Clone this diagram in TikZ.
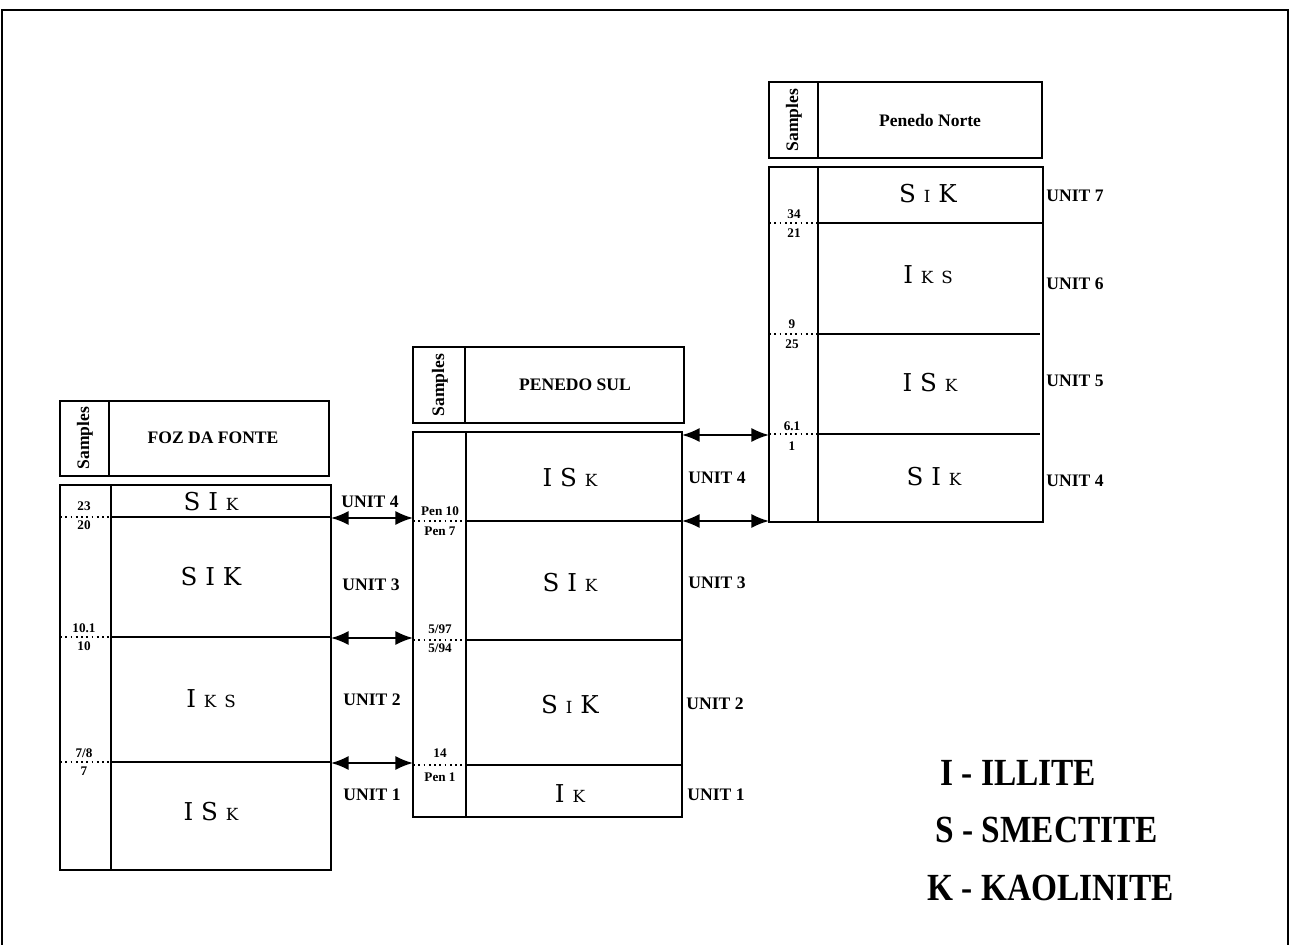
\documentclass[tikz,border=0pt]{standalone}
\usepackage{fontspec}
\setmainfont{Liberation Serif}
\newfontfamily\minfont{DejaVu Serif}
\usetikzlibrary{arrows.meta}
\tikzset{
  frame/.style={line width=1pt},
  sepline/.style={line width=0.9pt},
  dots/.style={line width=1pt, dotted},
  unit/.style={font=\bfseries\fontsize{10}{12}\selectfont, inner sep=0pt},
  smp/.style={font=\bfseries\fontsize{7.5}{8}\selectfont, inner sep=0pt},
  mineral/.style={font=\minfont\fontsize{14}{16}\selectfont, inner sep=0pt},
  title/.style={font=\bfseries\fontsize{10}{12}\selectfont, inner sep=0pt},
  samp/.style={font=\bfseries\fontsize{10}{12}\selectfont, rotate=90, inner sep=0pt},
  link/.style={line width=1.1pt, {Latex[length=10pt,width=8pt]}-{Latex[length=10pt,width=8pt]}},
  legend/.style={font=\bfseries\fontsize{19}{22}\selectfont, inner sep=0pt, anchor=west},
  border/.style={line width=1.2pt}
}
\newcommand\msm[1]{{\fontsize{9.5}{11}\selectfont #1}}
\newcommand\mins[3]{#1\hspace{4.5pt}#2\hspace{4.5pt}#3}
\begin{document}
\begin{tikzpicture}[x=0.02cm,y=-0.02cm]
\useasboundingbox (0,0) rectangle (1290,945);
% outer border
\draw[border] (2,945) -- (2,10) -- (1288,10) -- (1288,945);

% ---------- FOZ DA FONTE ----------
\draw[frame] (60,401) rectangle (329,476);
\draw[frame] (109,401) -- (109,476);
\node[samp] (lsamp) at (85,438) {Samples};
\node[title] (ltitle) at (213,438) {FOZ DA FONTE};
\draw[frame] (60,485) rectangle (331,870);
\draw[frame] (111,485) -- (111,870);
\draw[dots] (60,517) -- (111,517); \draw[sepline] (111,517) -- (331,517);
\draw[dots] (60,637) -- (111,637); \draw[sepline] (111,637) -- (331,637);
\draw[dots] (60,762) -- (111,762); \draw[sepline] (111,762) -- (331,762);
\node[smp] (l23) at (84,506) {23};
\node[smp] (l20) at (84,525) {20};
\node[smp] (l101) at (84,628) {10.1};
\node[smp] (l10) at (84,646) {10};
\node[smp] (l78) at (84,753) {7/8};
\node[smp] (l7) at (84,771) {7};
\node[mineral] (lm1) at (211,502) {\mins{S}{I}{\msm{K}}};
\node[mineral] (lm2) at (211,577) {\mins{S}{I}{K}};
\node[mineral] (lm3) at (211,699) {\mins{I}{\msm{K}}{\msm{S}}};
\node[mineral] (lm4) at (211,812) {\mins{I}{S}{\msm{K}}};

% ---------- PENEDO SUL ----------
\draw[frame] (413,347) rectangle (684,423);
\draw[frame] (465,347) -- (465,423);
\node[samp] (msamp) at (440,385) {Samples};
\node[title] (mtitle) at (575,385) {PENEDO SUL};
\draw[frame] (413,432) rectangle (682,817);
\draw[frame] (466,432) -- (466,817);
\draw[dots] (413,521) -- (466,521); \draw[sepline] (466,521) -- (682,521);
\draw[dots] (413,640) -- (466,640); \draw[sepline] (466,640) -- (682,640);
\draw[dots] (413,765) -- (466,765); \draw[sepline] (466,765) -- (682,765);
\node[smp] (mp10) at (440,511) {Pen 10};
\node[smp] (mp7) at (440,531) {Pen 7};
\node[smp] (m597) at (440,629) {5/97};
\node[smp] (m594) at (440,648) {5/94};
\node[smp] (m14) at (440,753) {14};
\node[smp] (mp1) at (440,777) {Pen 1};
\node[mineral] (mm1) at (570,478) {\mins{I}{S}{\msm{K}}};
\node[mineral] (mm2) at (570,583) {\mins{S}{I}{\msm{K}}};
\node[mineral] (mm3) at (570,705) {\mins{S}{\msm{I}}{K}};
\node[mineral] (mm4) at (570,794) {I\hspace{4.5pt}\msm{K}};
\node[unit] (mu4) at (717,478) {UNIT 4};
\node[unit] (mu3) at (717,583) {UNIT 3};
\node[unit] (mu2) at (715,704) {UNIT 2};
\node[unit] (mu1) at (716,795) {UNIT 1};

% ---------- Penedo Norte ----------
\draw[frame] (769,82) rectangle (1042,158);
\draw[frame] (818,82) -- (818,158);
\node[samp] (rsamp) at (794,120) {Samples};
\node[title] (rtitle) at (930,120) {Penedo Norte};
\draw[frame] (769,167) rectangle (1043,522);
\draw[frame] (818,167) -- (818,522);
\draw[dots] (769,223) -- (818,223); \draw[sepline] (818,223) -- (1043,223);
\draw[dots] (769,334) -- (818,334); \draw[sepline] (818,334) -- (1040,334);
\draw[dots] (769,434) -- (818,434); \draw[sepline] (818,434) -- (1040,434);
\node[smp] (r34) at (794,214) {34};
\node[smp] (r21) at (794,233) {21};
\node[smp] (r9) at (792,324) {9};
\node[smp] (r25) at (792,344) {25};
\node[smp] (r61) at (792,426) {6.1};
\node[smp] (r1) at (792,446) {1};
\node[mineral] (rm1) at (928,194) {\mins{S}{\msm{I}}{K}};
\node[mineral] (rm2) at (928,275) {\mins{I}{\msm{K}}{\msm{S}}};
\node[mineral] (rm3) at (930,383) {\mins{I}{S}{\msm{K}}};
\node[mineral] (rm4) at (934,477) {\mins{S}{I}{\msm{K}}};
\node[unit] (ru7) at (1075,196) {UNIT 7};
\node[unit] (ru6) at (1075,284) {UNIT 6};
\node[unit] (ru5) at (1075,381) {UNIT 5};
\node[unit] (ru4) at (1075,481) {UNIT 4};

% ---------- correlation arrows ----------
\coordinate (a4l) at (331,518); \coordinate (a4r) at (413,518);
\coordinate (a3l) at (331,638); \coordinate (a3r) at (413,638);
\coordinate (a2l) at (331,763); \coordinate (a2r) at (413,763);
\draw[link] (a4l) -- (a4r);
\draw[link] (a3l) -- (a3r);
\draw[link] (a2l) -- (a2r);
\node[unit] (gu4) at (370,502) {UNIT 4};
\node[unit] (gu3) at (371,585) {UNIT 3};
\node[unit] (gu2) at (372,700) {UNIT 2};
\node[unit] (gu1) at (372,795) {UNIT 1};
\coordinate (b1l) at (682,435); \coordinate (b1r) at (769,435);
\coordinate (b2l) at (682,521); \coordinate (b2r) at (769,521);
\draw[link] (b1l) -- (b1r);
\draw[link] (b2l) -- (b2r);

% ---------- legend ----------
\node[legend] (li) at (940,773) {\scalebox{1}[1.15]{I - ILLITE}};
\node[legend] (ls) at (935,830) {\scalebox{1}[1.15]{S - SMECTITE}};
\node[legend] (lk) at (927,888) {\scalebox{1}[1.15]{K - KAOLINITE}};
\end{tikzpicture}
\end{document}
